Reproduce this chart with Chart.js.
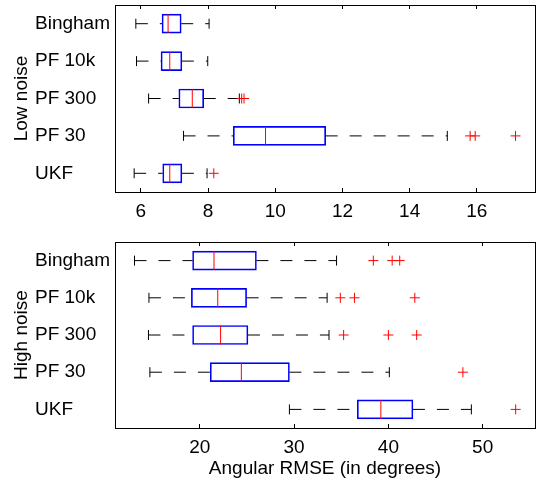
<!DOCTYPE html>
<html>
<head>
<meta charset="utf-8">
<script src="https://cdn.jsdelivr.net/npm/chart.js@4/dist/chart.umd.min.js"></script>
<style>
html, body { margin: 0; padding: 0; background: #fff; }
canvas { position: absolute; left: 0; }
#lowChart { top: 0; }
#highChart { top: 230px; }
</style>
</head>
<body>
<canvas id="lowChart" width="543" height="230"></canvas>
<canvas id="highChart" width="543" height="252"></canvas>
<script>
const categories = ['Bingham', 'PF 10k', 'PF 300', 'PF 30', 'UKF']

// low noise (degrees)
const lowMin = [5.85, 5.87, 6.23, 7.27, 5.8]
const lowQ1 = [6.63, 6.6, 7.13, 8.75, 6.65]
const lowMed = [6.81, 6.86, 7.53, 9.71, 6.86]
const lowQ3 = [7.2, 7.22, 7.87, 11.5, 7.22]
const lowMax = [8.03, 7.99, 8.93, 15.12, 7.97]
const lowOut = [[], [], [9.0, 9.07], [15.8, 15.95, 17.15], [8.17]]
const lowTicks = [6, 8, 10, 12, 14, 16]

// high noise (degrees)
const highMin = [13.07, 14.6, 14.55, 14.7, 29.5]
const highQ1 = [19.23, 19.1, 19.23, 21.1, 36.7]
const highMed = [21.5, 21.9, 22.2, 24.4, 39.2]
const highQ3 = [26.0, 24.96, 25.1, 29.5, 42.6]
const highMax = [34.5, 33.5, 33.7, 40.1, 48.8]
const highOut = [[38.4, 40.4, 41.2], [34.9, 36.4, 42.8], [35.25, 40.0, 43.0], [47.9], [53.5]]
const highTicks = [20, 30, 40, 50]

const font = { family: "'Liberation Sans', Arial, Helvetica, sans-serif", size: 19 }

function boxPanel(id, title, mins, q1, med, q3, maxs, outs, ticks, range, xTitle, topH, bottomH) {
  let whisker = []
  let outPts = []
  for (let i = 0; i < categories.length; i++) {
    let c = categories[i]
    whisker.push({x: mins[i], y: c}, {x: q1[i], y: c}, {x: null, y: c})
    whisker.push({x: q3[i], y: c}, {x: maxs[i], y: c}, {x: null, y: c})
    for (let j = 0; j < outs[i].length; j++) {
      outPts.push({x: outs[i][j], y: c})
    }
  }
  let step = ticks[1] - ticks[0]
  let grid = { drawOnChartArea: false, tickLength: -4, color: '#000', lineWidth: 1 }
  let border = { color: '#000', width: 1 }

  new Chart(document.getElementById(id), {
    type: 'bar',
    data: {
      labels: categories,
      datasets: [
        { type: 'line', indexAxis: 'y', data: med, showLine: false, pointStyle: 'line', pointRotation: 90,
          pointRadius: 9.5, pointBorderColor: '#ff0000', pointBorderWidth: 1 },
        { type: 'line', indexAxis: 'y', data: outPts, showLine: false, pointStyle: 'cross',
          pointRadius: 5, pointBorderColor: '#ff0000', pointBorderWidth: 1 },
        { type: 'line', indexAxis: 'y', data: mins, showLine: false, pointStyle: 'line', pointRotation: 90,
          pointRadius: 5, pointBorderColor: '#000', pointBorderWidth: 1 },
        { type: 'line', indexAxis: 'y', data: maxs, showLine: false, pointStyle: 'line', pointRotation: 90,
          pointRadius: 5, pointBorderColor: '#000', pointBorderWidth: 1 },
        { type: 'line', indexAxis: 'y', data: whisker, borderColor: '#000', borderWidth: 1, borderDash: [12, 12],
          pointRadius: 0, spanGaps: false, fill: false },
        { type: 'bar', data: q1.map((v, i) => [v, q3[i]]), backgroundColor: 'rgba(0,0,0,0)',
          borderColor: '#0000ff', borderWidth: 1, borderSkipped: false, barThickness: 19 }
      ]
    },
    options: {
      indexAxis: 'y',
      responsive: false,
      animation: false,
      events: [],
      layout: { padding: 0, autoPadding: false },
      plugins: { legend: { display: false }, tooltip: { enabled: false } },
      scales: {
        x: {
          type: 'linear', position: 'bottom', min: range[0], max: range[1],
          ticks: { stepSize: step, includeBounds: false, font: font, color: '#000', padding: 12, maxRotation: 0 },
          grid: grid, border: border,
          title: { display: xTitle != '', text: xTitle, font: font, color: '#000', padding: { top: 0, bottom: 2.2 } },
          afterFit: (s) => { s.height = bottomH; s.paddingLeft = 0; s.paddingRight = 0 }
        },
        x2: {
          type: 'linear', position: 'top', min: range[0], max: range[1],
          ticks: { stepSize: step, includeBounds: false, display: false },
          grid: grid, border: border,
          afterFit: (s) => { s.height = topH }
        },
        y: {
          type: 'category', position: 'left', weight: 0,
          ticks: { font: font, color: '#000', crossAlign: 'far', padding: 0 },
          grid: { display: false, drawTicks: false }, border: border,
          // keep the plot box where the reference has it
          afterFit: (s) => { s.width = 80; s.paddingTop = 0; s.paddingBottom = 0 }
        },
        yTitle: {
          type: 'category', position: 'left', weight: 1, labels: categories,
          ticks: { display: false },
          grid: { display: false, drawTicks: false }, border: { display: false },
          title: { display: true, text: title, font: font, color: '#000', padding: { top: 10.5, bottom: 0 } },
          afterFit: (s) => { s.width = 35 }
        },
        y2: {
          type: 'category', position: 'right', labels: categories,
          ticks: { display: false },
          grid: { display: false, drawTicks: false }, border: border,
          afterFit: (s) => { s.width = 8 }
        }
      }
    }
  })
}

boxPanel('lowChart', 'Low noise', lowMin, lowQ1, lowMed, lowQ3, lowMax, lowOut, lowTicks, [5.23, 17.73], '', 5, 38)
boxPanel('highChart', 'High noise', highMin, highQ1, highMed, highQ3, highMax, highOut, highTicks, [11, 55.55], 'Angular RMSE (in degrees)', 12, 54)
</script>
</body>
</html>
